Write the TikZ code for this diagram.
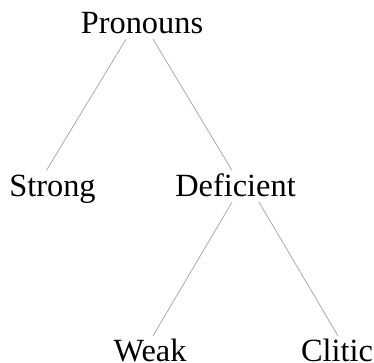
\documentclass[tikz,border=0pt]{standalone}
\usepackage{fontspec}
\setmainfont{Liberation Serif}
\usepackage{xcolor}
\usepackage{tikz}
\definecolor{edgegray}{rgb}{0.67, 0.67, 0.67}

\begin{document}
\begin{tikzpicture}[x=1bp, y=-1bp,
  word/.style={anchor=base, inner xsep=0pt, inner ysep=3.5bp, text height=22bp, text depth=2.5bp, font=\fontsize{32.5}{38}\selectfont},
  branch/.style={draw=edgegray, line width=0.8bp}]
\useasboundingbox (0,0) rectangle (374,363);

\node (p1) at (142,33) [word]{Pronouns};
\node (p2) at (52.5,196) [word]{Strong};
\node (p3) at (235.5,196) [word]{Deficient};
\node (p4) at (150,361.5) [word]{Weak};
\node (p5) at (337,361.5) [word]{Clitic};

\draw [branch] ([xshift=-16bp]p1.south) -- ([xshift=-6bp]p2.north);
\draw [branch] ([xshift=11bp]p1.south) -- ([xshift=-3.5bp]p3.north);
\draw [branch] ([xshift=-3.5bp]p3.south) -- ([xshift=3bp]p4.north);
\draw [branch] ([xshift=23.5bp]p3.south) -- ([xshift=1bp]p5.north);

\end{tikzpicture}
\end{document}
